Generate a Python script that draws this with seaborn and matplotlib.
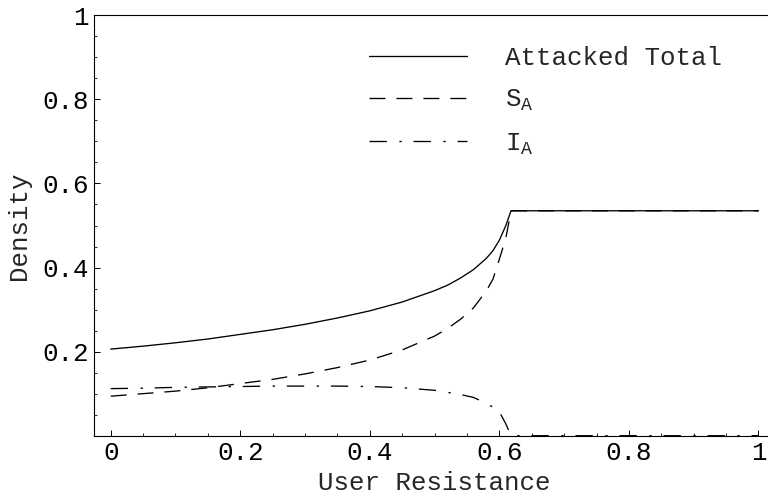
import matplotlib
matplotlib.use("Agg")
import matplotlib.pyplot as plt
from matplotlib.ticker import MultipleLocator
import seaborn as sns
import pandas as pd

# ---- data ----
resistance = [0, 0.05, 0.1, 0.15, 0.2, 0.25, 0.3, 0.35, 0.4, 0.45, 0.5, 0.52,
              0.54, 0.56, 0.58, 0.59, 0.6, 0.61, 0.618, 0.7, 0.8, 0.9, 1.0]
attacked_total = [0.206, 0.213, 0.221, 0.230, 0.241, 0.252, 0.265, 0.280, 0.297,
                  0.318, 0.345, 0.358, 0.375, 0.395, 0.422, 0.440, 0.465, 0.500,
                  0.535, 0.535, 0.535, 0.535, 0.535]
s_a = [0.094, 0.100, 0.106, 0.114, 0.124, 0.134, 0.147, 0.162, 0.180, 0.204,
       0.237, 0.255, 0.277, 0.304, 0.345, 0.372, 0.420, 0.470, 0.535, 0.535,
       0.535, 0.535, 0.535]
i_a = [0.112, 0.113, 0.115, 0.116, 0.117, 0.118, 0.118, 0.118, 0.117, 0.114,
       0.108, 0.103, 0.098, 0.091, 0.077, 0.068, 0.057, 0.028, 0.0, 0.0, 0.0,
       0.0, 0.0]
series_labels = ["Attacked Total", r"$\mathregular{S_A}$", r"$\mathregular{I_A}$"]
xtick_vals = [0, 0.2, 0.4, 0.6, 0.8, 1.0]
xtick_labels = ["0", "0.2", "0.4", "0.6", "0.8", "1"]
ytick_vals = [0.2, 0.4, 0.6, 0.8, 1.0]
ytick_labels = ["0.2", "0.4", "0.6", "0.8", "1"]

sns.set_style("ticks")
plt.rcParams["font.family"] = ["Liberation Mono", "DejaVu Sans Mono"]
plt.rcParams["mathtext.fontset"] = "custom"
plt.rcParams["mathtext.rm"] = "Liberation Mono"
plt.rcParams["lines.scale_dashes"] = False

df = pd.DataFrame({"x": resistance, "total": attacked_total, "s": s_a, "i": i_a})

W, H = 768, 497
fig = plt.figure(figsize=(W / 100, H / 100), dpi=100)
ax = fig.add_axes([94 / W, 1 - 435.7 / H, (W - 94) / W, (435.7 - 15.3) / H])

lw = 0.95
sns.lineplot(data=df, x="x", y="total", ax=ax, color="black", lw=lw,
             label=series_labels[0])
sns.lineplot(data=df, x="x", y="s", ax=ax, color="black", lw=lw,
             linestyle=(0, (11.5, 7.9)), label=series_labels[1])
sns.lineplot(data=df, x="x", y="i", ax=ax, color="black", lw=lw,
             linestyle=(0, (12.5, 9.0, 1.7, 8.5)), label=series_labels[2])

ax.set_xlim(-0.0258, 1.0147)
ax.set_ylim(0, 1)

fs = 18.6
ax.set_xticks(xtick_vals)
ax.set_xticklabels(xtick_labels, fontsize=fs)
ax.set_yticks(ytick_vals)
ax.set_yticklabels(ytick_labels, fontsize=fs)
ax.xaxis.set_minor_locator(MultipleLocator(0.05))
ax.yaxis.set_minor_locator(MultipleLocator(0.05))
ax.tick_params(which="major", direction="in", length=4.3, width=0.7, colors="black", pad=4)
ax.tick_params(which="minor", direction="in", length=2.2, width=0.6, colors="black")

for side in ["left", "bottom", "top"]:
    ax.spines[side].set_linewidth(0.8)
    ax.spines[side].set_color("black")
ax.spines["right"].set_visible(False)

ax.set_xlabel("User Resistance", fontsize=fs)
ax.set_ylabel("Density", fontsize=fs)
ax.xaxis.set_label_coords((434.6 - 94) / (W - 94), -0.085)
ax.yaxis.set_label_coords((31 - 94) / (W - 94), 0.5)

leg = ax.legend(loc="upper left", bbox_to_anchor=(369 / W, 1 - 46 / H),
                bbox_transform=fig.transFigure, frameon=False, fontsize=fs,
                handlelength=3.8, handletextpad=1.45, labelspacing=0.7,
                borderpad=0, borderaxespad=0)

fig.savefig("out.png", dpi=100)
